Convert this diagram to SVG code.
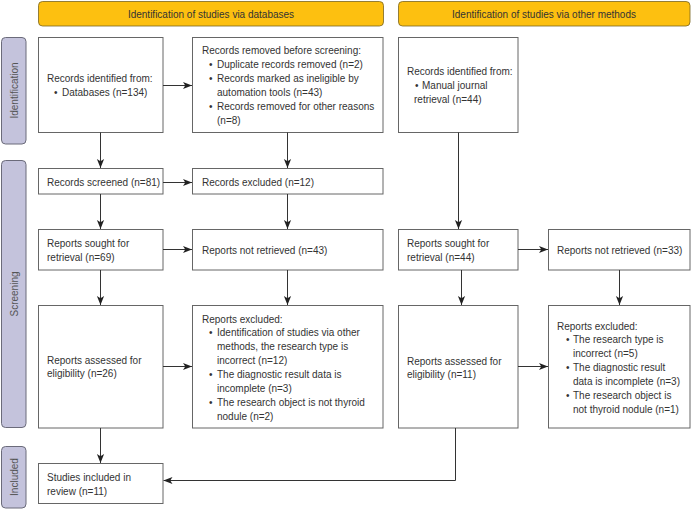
<svg xmlns="http://www.w3.org/2000/svg" width="691" height="509" viewBox="0 0 691 509">
<style>
text{font-family:"Liberation Sans",Arial,sans-serif;font-size:10px;fill:#333}
.hdr{fill:#FDC010;stroke:#7a6420;stroke-width:0.8}
.side{fill:#C4C3DC;stroke:#6b6b7a;stroke-width:1}
.box{fill:#fff;stroke:#666;stroke-width:1}
.st{fill:#555;text-anchor:middle}
.ht{text-anchor:middle;fill:#333}
.conn{fill:none;stroke:#333;stroke-width:1}
</style>
<defs>
<marker id="ah" viewBox="0 0 10 10" refX="10" refY="5" markerWidth="9" markerHeight="9" markerUnits="userSpaceOnUse" orient="auto">
<path d="M0,1 L10,5 L0,9 L2.5,5 Z" fill="#222"/>
</marker>
</defs>
<g id="hdr-db"><rect class="hdr" x="38.5" y="1.5" width="345" height="24.5" rx="4"/><text class="ht" x="211" y="17.5">Identification of studies via databases</text></g>
<g id="hdr-other"><rect class="hdr" x="398.5" y="1.5" width="291.5" height="24.5" rx="4"/><text class="ht" x="544" y="17.5">Identification of studies via other methods</text></g>
<g id="side-ident"><rect class="side" x="1.5" y="37.5" width="24.5" height="106.5" rx="4"/><text class="st" transform="translate(17.5,90.5) rotate(-90)">Identification</text></g>
<g id="side-screen"><rect class="side" x="1.5" y="160.5" width="24.5" height="267" rx="4"/><text class="st" transform="translate(17.5,294) rotate(-90)">Screening</text></g>
<g id="side-incl"><rect class="side" x="1.5" y="446.5" width="24.5" height="61.5" rx="4"/><text class="st" transform="translate(17.5,477) rotate(-90)">Included</text></g>

<g id="n-db-ident"><rect class="box" x="38.5" y="37.5" width="124.5" height="95"/>
<text x="47" y="82">Records identified from:</text>
<text x="54" y="95.5">•</text><text x="62" y="95.5">Databases (n=134)</text></g>
<g id="n-removed"><rect class="box" x="192.5" y="37.5" width="190.5" height="95"/>
<text x="202" y="54">Records removed before screening:</text>
<text x="209" y="68">•</text><text x="217" y="68">Duplicate records removed (n=2)</text>
<text x="209" y="82">•</text><text x="217" y="82">Records marked as ineligible by</text>
<text x="217" y="96">automation tools (n=43)</text>
<text x="209" y="110">•</text><text x="217" y="110">Records removed for other reasons</text>
<text x="217" y="124">(n=8)</text></g>
<g id="n-other-ident"><rect class="box" x="398.5" y="37.5" width="119.5" height="95"/>
<text x="407" y="75">Records identified from:</text>
<text x="415" y="89">•</text><text x="422" y="89">Manual journal</text>
<text x="414" y="103">retrieval (n=44)</text></g>

<g id="n-screened"><rect class="box" x="38.5" y="168.5" width="124.5" height="25.5"/><text x="47" y="185.5">Records screened (n=81)</text></g>
<g id="n-excluded"><rect class="box" x="192.5" y="168.5" width="190.5" height="25.5"/><text x="202" y="185.5">Records excluded (n=12)</text></g>

<g id="n-sought-db"><rect class="box" x="38.5" y="229.5" width="124.5" height="40.5"/><text x="47" y="246.5">Reports sought for</text><text x="47" y="260.5">retrieval (n=69)</text></g>
<g id="n-notret-db"><rect class="box" x="192.5" y="229.5" width="190.5" height="40.5"/><text x="202" y="253.5">Reports not retrieved (n=43)</text></g>
<g id="n-sought-other"><rect class="box" x="398.5" y="229.5" width="119.5" height="40.5"/><text x="407" y="246.5">Reports sought for</text><text x="407" y="260.5">retrieval (n=44)</text></g>
<g id="n-notret-other"><rect class="box" x="548.5" y="229.5" width="141.5" height="40.5"/><text x="557" y="253.5">Reports not retrieved (n=33)</text></g>

<g id="n-assessed-db"><rect class="box" x="38.5" y="305.5" width="124.5" height="122.5"/><text x="47" y="363.5">Reports assessed for</text><text x="47" y="377">eligibility (n=26)</text></g>
<g id="n-excl-db"><rect class="box" x="192.5" y="305.5" width="190.5" height="122.5"/>
<text x="202" y="322.5">Reports excluded:</text>
<text x="209" y="336">•</text><text x="217" y="336">Identification of studies via other</text>
<text x="217" y="350">methods, the research type is</text>
<text x="217" y="364">incorrect (n=12)</text>
<text x="209" y="378">•</text><text x="217" y="378">The diagnostic result data is</text>
<text x="217" y="392">incomplete (n=3)</text>
<text x="209" y="406">•</text><text x="217" y="406">The research object is not thyroid</text>
<text x="217" y="420">nodule (n=2)</text></g>
<g id="n-assessed-other"><rect class="box" x="398.5" y="305.5" width="119.5" height="122.5"/><text x="407" y="364.5">Reports assessed for</text><text x="407" y="378">eligibility (n=11)</text></g>
<g id="n-excl-other"><rect class="box" x="548.5" y="305.5" width="141.5" height="122.5"/>
<text x="557" y="329.5">Reports excluded:</text>
<text x="566" y="343">•</text><text x="573" y="343">The research type is</text>
<text x="573" y="357">incorrect (n=5)</text>
<text x="566" y="371">•</text><text x="573" y="371">The diagnostic result</text>
<text x="573" y="385">data is incomplete (n=3)</text>
<text x="566" y="399">•</text><text x="573" y="399">The research object is</text>
<text x="573" y="413">not thyroid nodule (n=1)</text></g>

<g id="n-included"><rect class="box" x="38.5" y="463.5" width="124.5" height="40"/><text x="47" y="480.5">Studies included in</text><text x="47" y="494.5">review (n=11)</text></g>

<g id="connectors" class="conn" marker-end="url(#ah)">
<line x1="163" y1="85.5" x2="192" y2="85.5"/>
<line x1="100.5" y1="132.5" x2="100.5" y2="168"/>
<line x1="287.5" y1="132.5" x2="287.5" y2="168"/>
<line x1="458.5" y1="132.5" x2="458.5" y2="229"/>
<line x1="163" y1="182.5" x2="192" y2="182.5"/>
<line x1="100.5" y1="194" x2="100.5" y2="229"/>
<line x1="287.5" y1="194" x2="287.5" y2="229"/>
<line x1="163" y1="249.5" x2="192" y2="249.5"/>
<line x1="518" y1="249.5" x2="548" y2="249.5"/>
<line x1="100.5" y1="270" x2="100.5" y2="305"/>
<line x1="287.5" y1="270" x2="287.5" y2="305"/>
<line x1="461.5" y1="270" x2="461.5" y2="305"/>
<line x1="619.5" y1="270" x2="619.5" y2="305"/>
<line x1="163" y1="366.5" x2="192" y2="366.5"/>
<line x1="518" y1="366.5" x2="548" y2="366.5"/>
<line x1="100.5" y1="428" x2="100.5" y2="463"/>
<polyline points="455.5,428 455.5,480.5 163.5,480.5"/>
</g>
</svg>
